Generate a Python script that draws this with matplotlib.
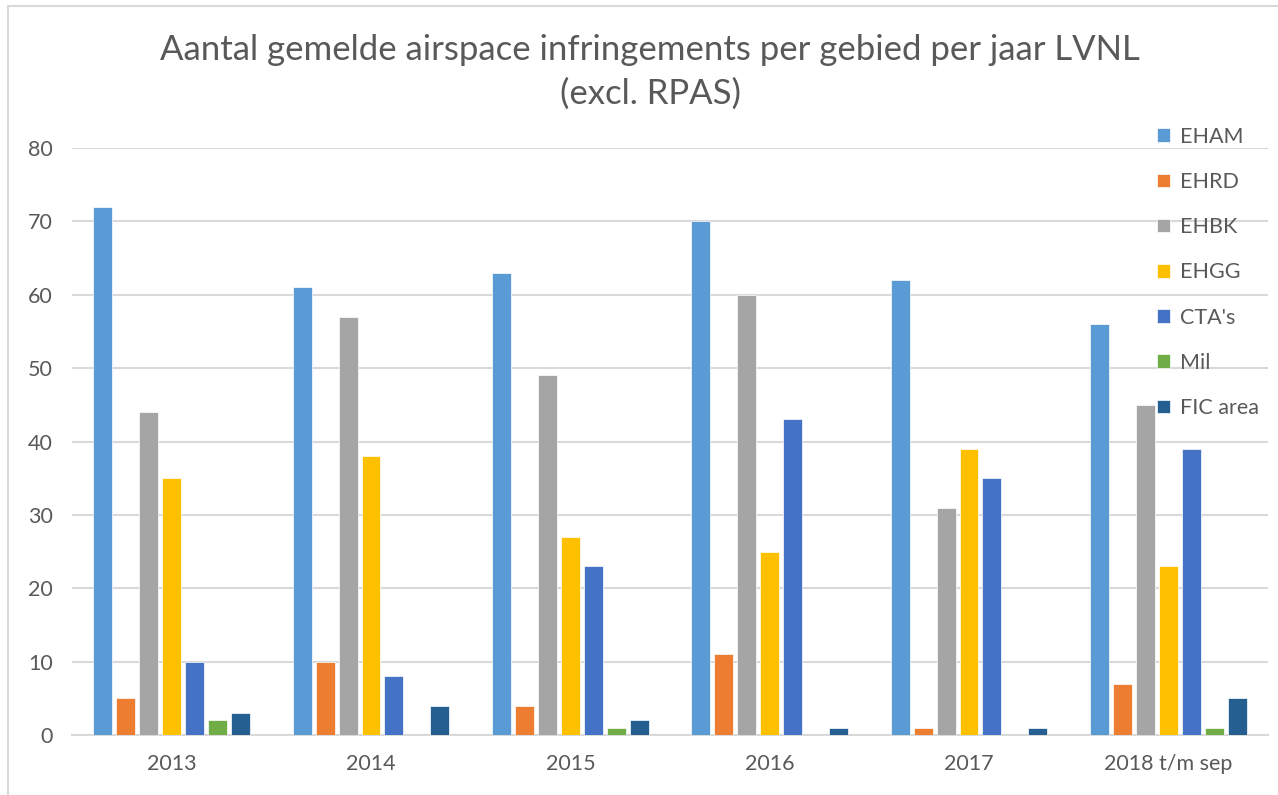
import numpy as np
import matplotlib
matplotlib.use("Agg")
import matplotlib.pyplot as plt
from matplotlib.patches import Rectangle

# data
jaren = ["2013", "2014", "2015", "2016", "2017", "2018 t/m sep"]
gebieden = ["EHAM", "EHRD", "EHBK", "EHGG", "CTA's", "Mil", "FIC area"]
eham = [72, 61, 63, 70, 62, 56]
ehrd = [5, 10, 4, 11, 1, 7]
ehbk = [44, 57, 49, 60, 31, 45]
ehgg = [35, 38, 27, 25, 39, 23]
cta = [10, 8, 23, 43, 35, 39]
mil = [2, 0, 1, 0, 0, 1]
fic = [3, 4, 2, 1, 1, 5]
reeksen = [eham, ehrd, ehbk, ehgg, cta, mil, fic]

kleuren = ["#5B9BD5", "#ED7D31", "#A5A5A5", "#FFC000", "#4472C4", "#70AD47", "#255E91"]
tekst = "#595959"
grid = "#D9D9D9"

plt.rcParams['font.family'] = ['Lato', 'DejaVu Sans']

fig = plt.figure(figsize=(12.78, 7.95), dpi=100)
ax = fig.add_axes([72 / 1278, 60 / 795, 1196 / 1278, 587 / 795])

x = np.arange(len(jaren))
stap = 0.115
breedte = 0.095
for i, (naam, waarden) in enumerate(zip(gebieden, reeksen)):
    ax.bar(x + (i - 3) * stap, waarden, breedte, color=kleuren[i], label=naam,
           edgecolor="white", linewidth=0.5, zorder=3)

ax.set_xlim(-0.5, len(jaren) - 0.5)
ax.set_ylim(0, 80)
ax.set_yticks(range(0, 81, 10))
ax.set_xticks(x)
ax.set_xticklabels(jaren)
ax.grid(axis="y", color=grid, linewidth=1.5, zorder=0)
for s in ["top", "right", "left"]:
    ax.spines[s].set_visible(False)
ax.spines["bottom"].set_color(grid)
ax.spines["bottom"].set_linewidth(1.5)
ax.tick_params(axis="both", length=0, colors=tekst, labelsize=15.5)
ax.tick_params(axis="y", pad=14)
ax.tick_params(axis="x", pad=14)

leg = ax.legend(loc="upper left", bbox_to_anchor=(1138 / 1196 - 72 / 1196, 1.069),
                frameon=False, handlelength=0.6, handleheight=0.6, handletextpad=0.45,
                labelspacing=1.17, fontsize=15.5)
for t in leg.get_texts():
    t.set_color(tekst)

fig.text(650 / 1278, 1 - 72 / 795, "Aantal gemelde airspace infringements per gebied per jaar LVNL\n(excl. RPAS)",
         ha="center", va="center", fontsize=25, color=tekst, linespacing=1.45)

fig.patches.append(Rectangle((8 / 1278, -0.1), 1.2, 1 - 6 / 795 + 0.1, transform=fig.transFigure,
                             fill=False, edgecolor=grid, linewidth=1.5))

fig.savefig("out.png", dpi=100)
